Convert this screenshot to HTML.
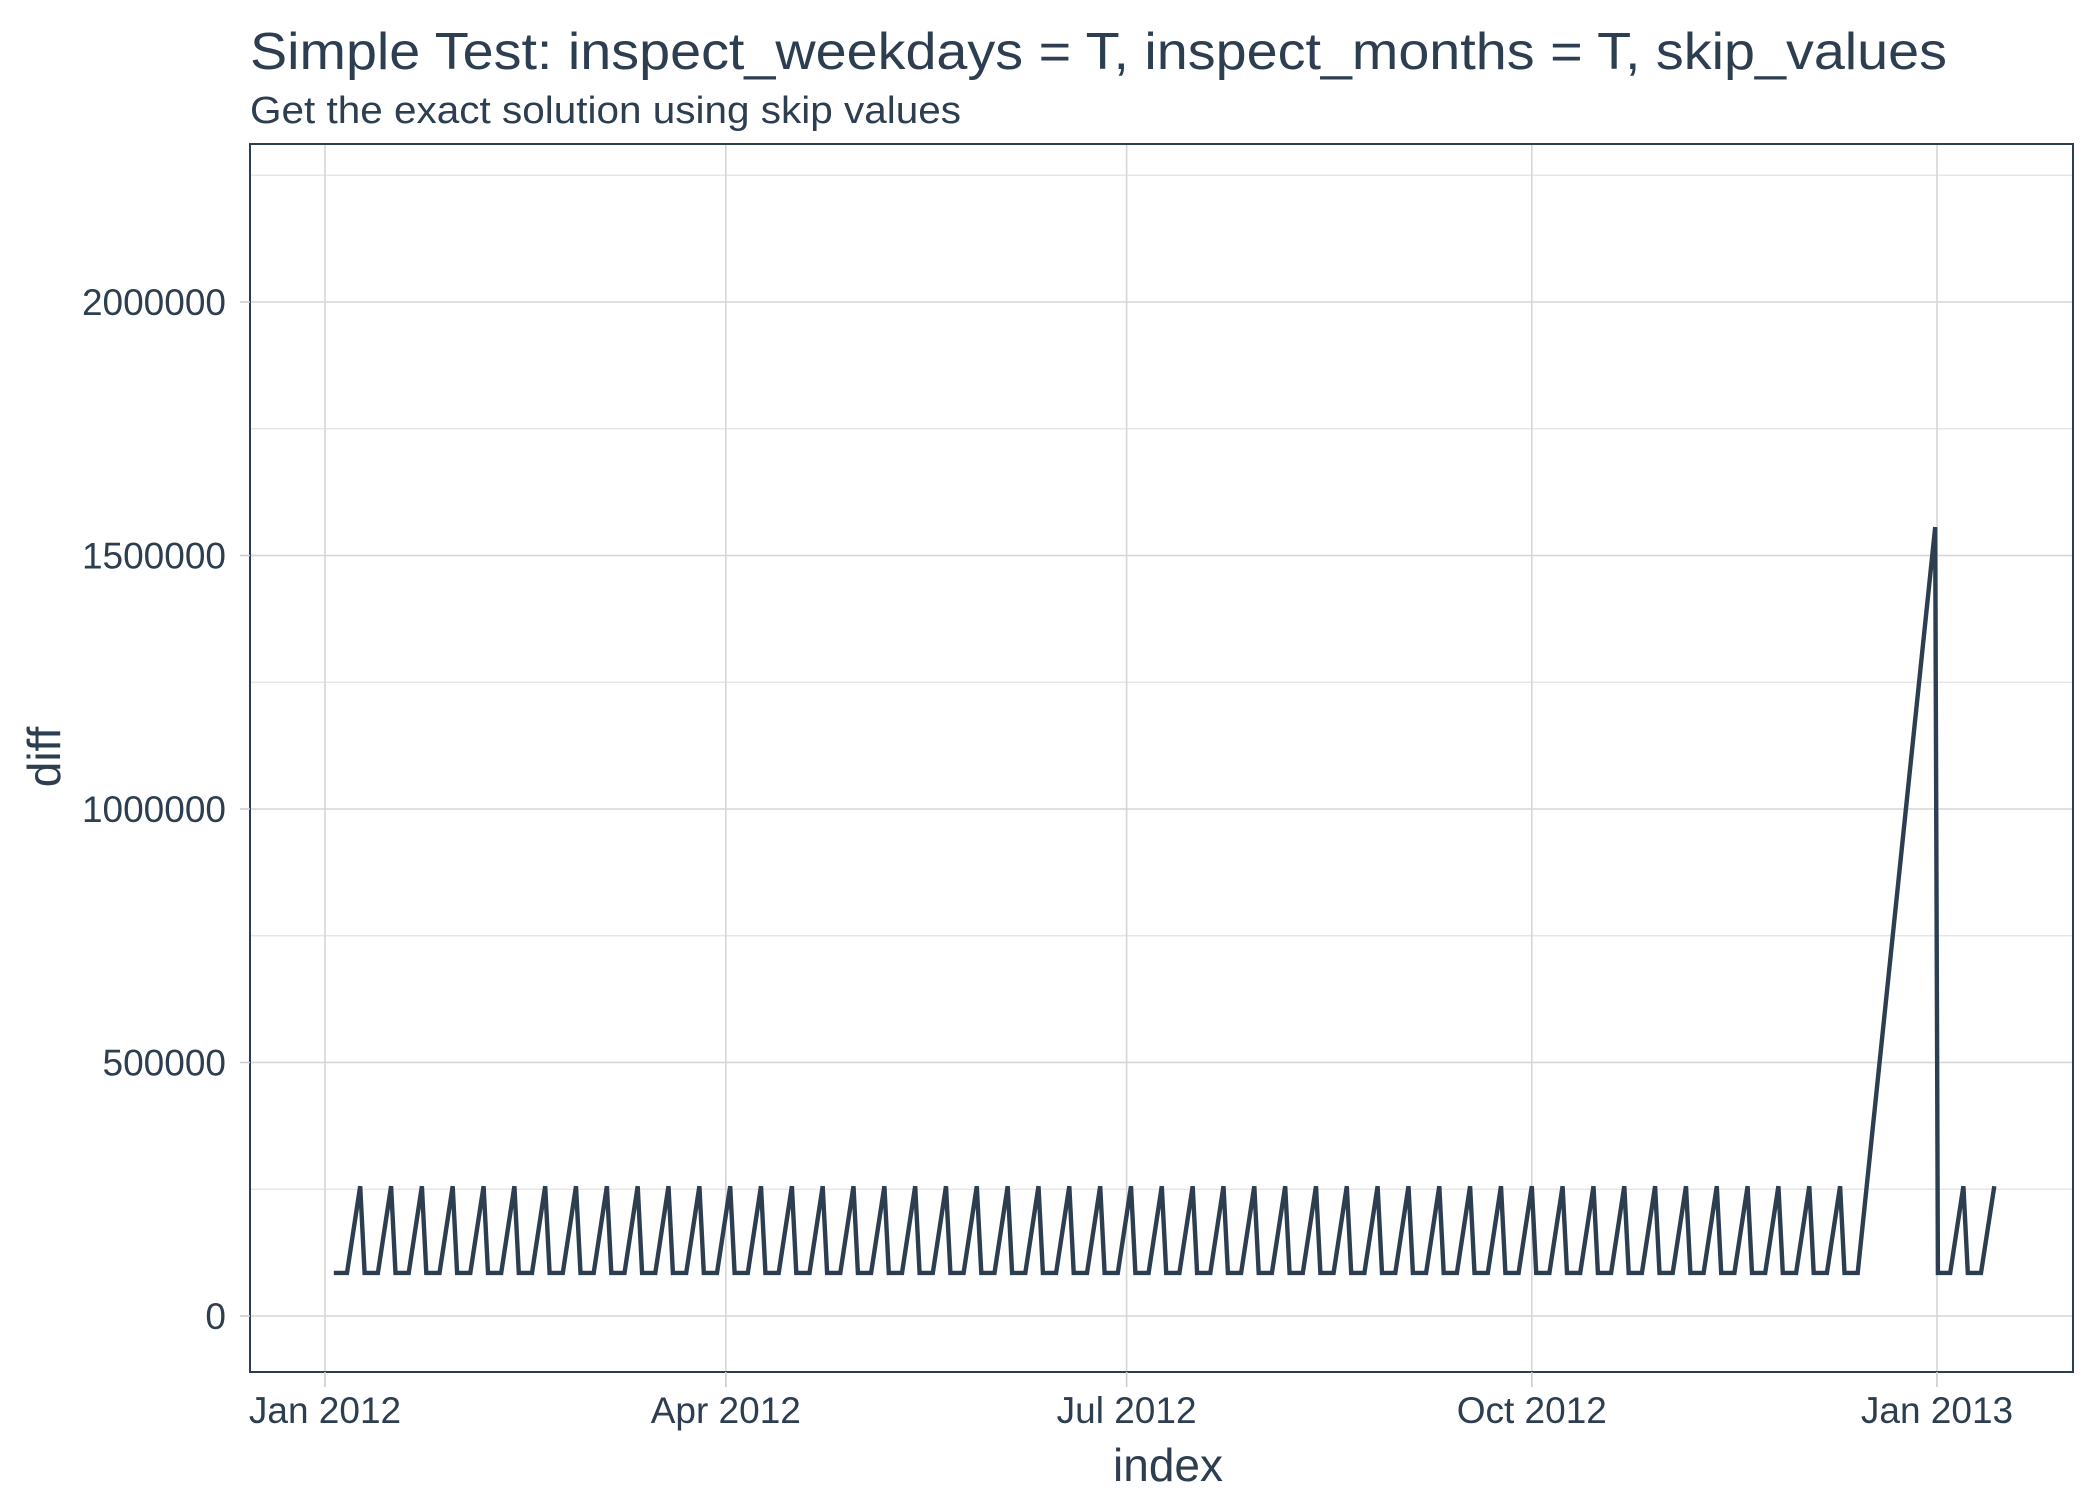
<!DOCTYPE html>
<html><head><meta charset="utf-8">
<style>
html,body{margin:0;padding:0;background:#fff;}
svg{display:block;font-family:"Liberation Sans",Arial,sans-serif;}
</style></head>
<body>
<svg id="chart" width="2100" height="1500" viewBox="0 0 2100 1500">
<text x="250" y="69" font-size="52" fill="#2c3e50" textLength="1697" lengthAdjust="spacingAndGlyphs">Simple Test: inspect_weekdays = T, inspect_months = T, skip_values</text>
<text x="250" y="123" font-size="38" fill="#2c3e50" textLength="711" lengthAdjust="spacingAndGlyphs">Get the exact solution using skip values</text>
<g id="grid"></g>
<g id="series"></g>
<rect x="250" y="144" width="1823" height="1228" fill="none" stroke="#2c3e50" stroke-width="2"/>
<g id="axes"></g>
<text x="1168" y="1481" font-size="46" fill="#2c3e50" text-anchor="middle">index</text>
<text x="0" y="0" font-size="46" fill="#2c3e50" text-anchor="middle" transform="translate(60,757) rotate(-90)">diff</text>
</svg>
<script>
const xTickDays = [0, 91, 182, 274, 366];
const xTickLabels = ["Jan 2012", "Apr 2012", "Jul 2012", "Oct 2012", "Jan 2013"];
const yTickValues = [0, 500000, 1000000, 1500000, 2000000];
const yTickLabels = ["0", "500000", "1000000", "1500000", "2000000"];
const yMinorValues = [250000, 750000, 1250000, 1750000, 2250000];
const days = [
2,5,8, 9,12,15, 16,19,22, 23,26,29, 30,33,36, 37,40,43, 44,47,50,
51,54,57, 58,61,64, 65,68,71, 72,75,78, 79,82,85, 86,89,92, 93,96,99,
100,103,106, 107,110,113, 114,117,120, 121,124,127, 128,131,134, 135,138,141, 142,145,148,
149,152,155, 156,159,162, 163,166,169, 170,173,176, 177,180,183, 184,187,190, 191,194,197,
198,201,204, 205,208,211, 212,215,218, 219,222,225, 226,229,232, 233,236,239, 240,243,246,
247,250,253, 254,257,260, 261,264,267, 268,271,274, 275,278,281, 282,285,288, 289,292,295,
296,299,302, 303,306,309, 310,313,316, 317,320,323, 324,327,330, 331,334,337, 338,341,344,
345,348,365.6, 366.2,369,372, 373,376,379];
const diffValues = [
85000,85000,256000, 85000,85000,256000, 85000,85000,256000, 85000,85000,256000, 85000,85000,256000, 85000,85000,256000, 85000,85000,256000,
85000,85000,256000, 85000,85000,256000, 85000,85000,256000, 85000,85000,256000, 85000,85000,256000, 85000,85000,256000, 85000,85000,256000,
85000,85000,256000, 85000,85000,256000, 85000,85000,256000, 85000,85000,256000, 85000,85000,256000, 85000,85000,256000, 85000,85000,256000,
85000,85000,256000, 85000,85000,256000, 85000,85000,256000, 85000,85000,256000, 85000,85000,256000, 85000,85000,256000, 85000,85000,256000,
85000,85000,256000, 85000,85000,256000, 85000,85000,256000, 85000,85000,256000, 85000,85000,256000, 85000,85000,256000, 85000,85000,256000,
85000,85000,256000, 85000,85000,256000, 85000,85000,256000, 85000,85000,256000, 85000,85000,256000, 85000,85000,256000, 85000,85000,256000,
85000,85000,256000, 85000,85000,256000, 85000,85000,256000, 85000,85000,256000, 85000,85000,256000, 85000,85000,256000, 85000,85000,256000,
85000,85000,1556000, 85000,85000,256000, 85000,85000,256000];

const NS = "http://www.w3.org/2000/svg";
const PL = 250, PR = 2073, PT = 144, PB = 1372;
function xScale(d){ return 325 + d * (1937 - 325) / 366; }
function yScale(v){ return 1316 - v * (1316 - 302) / 2000000; }
function mk(tag, attrs, parent){
  const e = document.createElementNS(NS, tag);
  for (const k in attrs) e.setAttribute(k, attrs[k]);
  parent.appendChild(e);
  return e;
}
const grid = document.getElementById('grid');
const axes = document.getElementById('axes');
const series = document.getElementById('series');

yMinorValues.forEach(v => {
  const l = mk('line', {x1:PL, x2:PR, y1:yScale(v), y2:yScale(v), stroke:'#e3e3e3', 'stroke-width':1.3}, grid);
  
  
});
yTickValues.forEach((v, i) => {
  const y = yScale(v);
  const l = mk('line', {x1:PL, x2:PR, y1:y, y2:y, stroke:'#d6d6d6', 'stroke-width':1.6}, grid);
  
  
  const t = mk('line', {x1:PL-10, x2:PL, y1:y, y2:y, stroke:'#cccccc', 'stroke-width':1.6}, axes);
  
  
  const tx = mk('text', {x:PL-24, y:y+13, 'font-size':37, fill:'#2c3e50', 'text-anchor':'end'}, axes);
  tx.textContent = yTickLabels[i];
  
  
});
xTickDays.forEach((d, i) => {
  const x = xScale(d);
  const l = mk('line', {x1:x, x2:x, y1:PT, y2:PB, stroke:'#d6d6d6', 'stroke-width':1.6}, grid);
  
  
  const t = mk('line', {x1:x, x2:x, y1:PB, y2:PB+15, stroke:'#cccccc', 'stroke-width':1.6}, axes);
  
  
  const tx = mk('text', {x:x, y:PB+51, 'font-size':37, fill:'#2c3e50', 'text-anchor':'middle'}, axes);
  tx.textContent = xTickLabels[i];
  
  
});
const n = Math.min(days.length, diffValues.length);
const pts = [];
for (let i = 0; i < n; i++) pts.push(xScale(days[i]).toFixed(1) + ',' + yScale(diffValues[i]).toFixed(1));
const line = mk('polyline', {points:pts.join(' '), fill:'none', stroke:'#2c3e50', 'stroke-width':4.4, 'stroke-linejoin':'miter', 'stroke-miterlimit':3}, series);


</script>
</body></html>
